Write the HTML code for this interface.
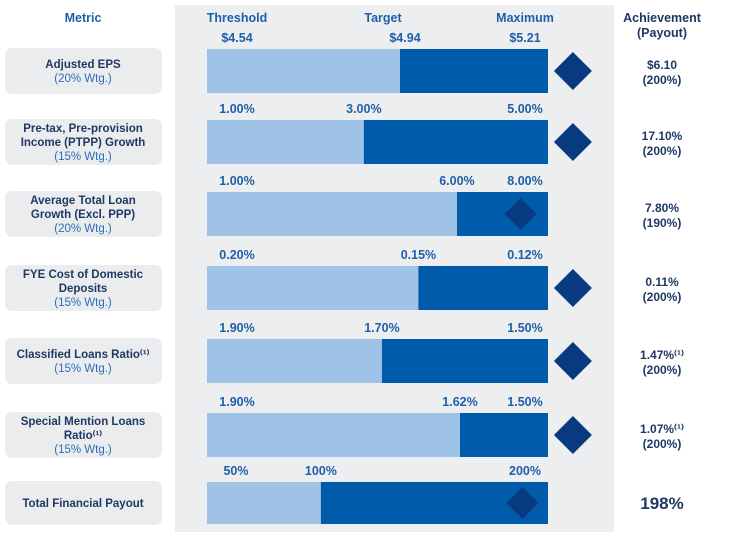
<!DOCTYPE html>
<html><head><meta charset="utf-8"><style>
body{margin:0;background:#fff;width:750px;height:535px;overflow:hidden;font-family:"Liberation Sans",sans-serif}
svg text{font-family:"Liberation Sans",sans-serif}
</style></head><body>
<svg width="750" height="535" xmlns="http://www.w3.org/2000/svg">
<rect x="175" y="5" width="439" height="527" fill="#edeef0"/>
<g id="hdr" font-weight="bold" font-size="12.5" fill="#1f5fa8" text-anchor="middle">
<text x="83" y="22">Metric</text>
<text x="237" y="22">Threshold</text>
<text x="383" y="22">Target</text>
<text x="525" y="22">Maximum</text>
<text x="662" y="22" fill="#1f3864">Achievement</text>
<text x="662" y="37" fill="#1f3864">(Payout)</text>
</g>
<g id="rows"></g>
</svg>
<script>
const names=[["Adjusted EPS"],["Pre-tax, Pre-provision","Income (PTPP) Growth"],["Average Total Loan","Growth (Excl. PPP)"],["FYE Cost of Domestic","Deposits"],["Classified Loans Ratio⁽¹⁾"],["Special Mention Loans","Ratio⁽¹⁾"],["Total Financial Payout"]];
const weights=["(20% Wtg.)","(15% Wtg.)","(20% Wtg.)","(15% Wtg.)","(15% Wtg.)","(15% Wtg.)",""];
const thresholds=["$4.54","1.00%","1.00%","0.20%","1.90%","1.90%","50%"];
const targets=["$4.94","3.00%","6.00%","0.15%","1.70%","1.62%","100%"];
const maximums=["$5.21","5.00%","8.00%","0.12%","1.50%","1.50%","200%"];
const targetPos=[0.566,0.46,0.733,0.62,0.513,0.742,0.334];
const resultPos=[1.073,1.073,0.92,1.073,1.073,1.073,0.925];
const achievement=["$6.10","17.10%","7.80%","0.11%","1.47%⁽¹⁾","1.07%⁽¹⁾","198%"];
const payout=["(200%)","(200%)","(190%)","(200%)","(200%)","(200%)",""];
const X0=207,X1=548;
const xs=f=>X0+(X1-X0)*f;
const rowTops=[49,120,192,266,339,413,482];
const ns="http://www.w3.org/2000/svg";
const g=document.getElementById('rows');
function mk(t,a,txt){const e=document.createElementNS(ns,t);for(const k in a)e.setAttribute(k,a[k]);if(txt!=null)e.textContent=txt;g.appendChild(e);return e;}
names.forEach((nm,i)=>{
 const y=rowTops[i],h=(i==6?42:44),cy=y+h/2;
 const box=mk('rect',{x:5,y:y-1,width:157,height:h+2,rx:7,fill:'#ebecee'});
 
 
 const lines=nm.length+(weights[i]?1:0);
 let ty=cy-(lines-1)*7+4;
 nm.forEach(l=>{const t=mk('text',{x:83,y:ty,'text-anchor':'middle','font-size':11.5,'font-weight':'bold',fill:'#1f3864'},l);
  
  ty+=14;});
 if(weights[i]){const t=mk('text',{x:83,y:ty,'text-anchor':'middle','font-size':11.5,fill:'#2f6eb5'},weights[i]);
  
  }
 const b1=mk('rect',{x:X0,y:y,width:X1-X0,height:h,fill:'#9fc3e7'});
 
 
 const b2=mk('rect',{x:xs(targetPos[i]),y:y,width:X1-xs(targetPos[i]),height:h,fill:'#005bab'});
 
 
 const ly=y-7,fs={'font-size':12.5,'font-weight':'bold',fill:'#1f5fa8','text-anchor':'middle'};
 const t1=mk('text',Object.assign({x:i==6?236:237,y:ly},fs),thresholds[i]);
 
 
 const tx=Math.min(xs(targetPos[i]),X1-78);
 const t2=mk('text',Object.assign({x:i==0?405:tx,y:ly},fs),targets[i]);
 
 
 const t3=mk('text',Object.assign({x:525,y:ly},fs),maximums[i]);
 
 
 const dx=xs(resultPos[i]),r=(i==6||i==2)?16:19;
 const d=mk('polygon',{points:`${dx},${cy-r} ${dx+r},${cy} ${dx},${cy+r} ${dx-r},${cy}`,fill:'#083a80'});
 
 
 if(i==6){const a=mk('text',{x:662,y:cy+6,'text-anchor':'middle','font-size':17,'font-weight':'bold',fill:'#1f3864'},achievement[i]);
  
  }
 else{const a=mk('text',{x:662,y:cy-2,'text-anchor':'middle','font-size':12,'font-weight':'bold',fill:'#1f3864'},achievement[i]);
  
  
  const p=mk('text',{x:662,y:cy+13,'text-anchor':'middle','font-size':12,'font-weight':'bold',fill:'#1f3864'},payout[i]);
  
  }
});
</script>
</body></html>
